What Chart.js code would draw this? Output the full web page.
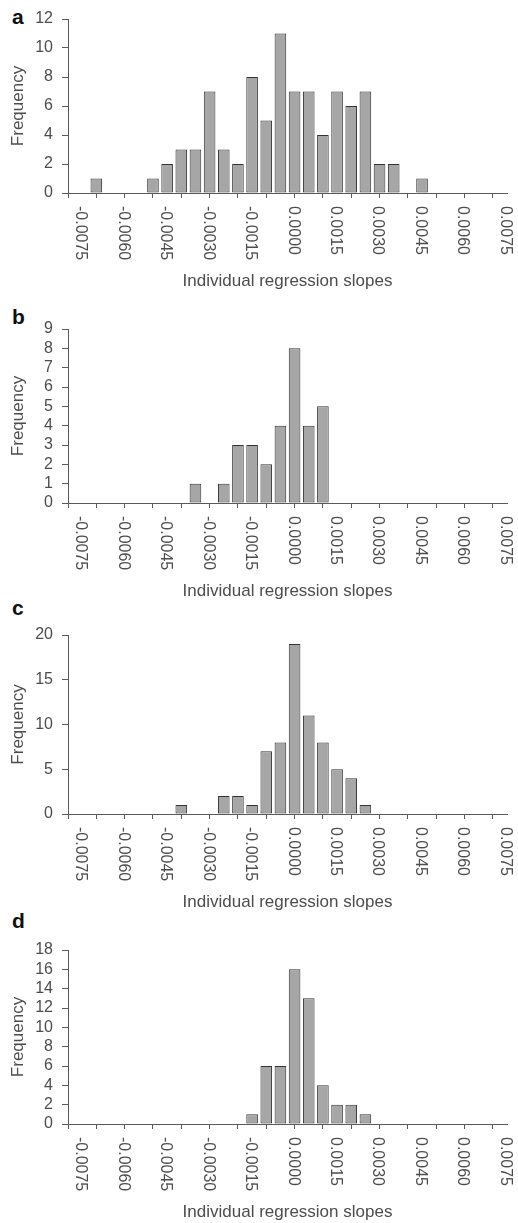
<!DOCTYPE html>
<html>
<head>
<meta charset="utf-8">
<script src="https://cdn.jsdelivr.net/npm/chart.js@4.4.0/dist/chart.umd.min.js"></script>
<style>
  html, body { margin: 0; padding: 0; background: #fff; width: 518px; height: 1223px; overflow: hidden; }
  canvas { position: absolute; left: 0; }
  .letter { position: absolute; left: 12px; font: bold 21px "Liberation Sans", Arial, sans-serif; line-height: 21px; color: #111; }
</style>
</head>
<body>
<div class="letter" style="top:6px">a</div>
<div class="letter" style="top:306px">b</div>
<div class="letter" style="top:597px">c</div>
<div class="letter" style="top:910px">d</div>

<canvas id="chart-a" width="518" height="292" style="top:0px"></canvas>
<canvas id="chart-b" width="518" height="292" style="top:310px"></canvas>
<canvas id="chart-c" width="518" height="297" style="top:616px"></canvas>
<canvas id="chart-d" width="518" height="292" style="top:931px"></canvas>

<script>
// bin centres (bin width 0.0005)
const binCenters = [
  -0.00725, -0.00675, -0.00625, -0.00575, -0.00525, -0.00475, -0.00425, -0.00375,
  -0.00325, -0.00275, -0.00225, -0.00175, -0.00125, -0.00075, -0.00025,
   0.00025,  0.00075,  0.00125,  0.00175,  0.00225,  0.00275,  0.00325,  0.00375,
   0.00425,  0.00475,  0.00525,  0.00575,  0.00625,  0.00675,  0.00725
];

const xTickValues = [-0.0075, -0.006, -0.0045, -0.003, -0.0015, 0, 0.0015, 0.003, 0.0045, 0.006, 0.0075];
const xTickLabels = ['-0.0075', '-0.0060', '-0.0045', '-0.0030', '-0.0015', '0.0000',
                     '0.0015', '0.0030', '0.0045', '0.0060', '0.0075'];

const countsA = [0, 1, 0, 0, 0, 1, 2, 3, 3, 7, 3, 2, 8, 5, 11, 7, 7, 4, 7, 6, 7, 2, 2, 0, 1, 0, 0, 0, 0, 0];
const countsB = [0, 0, 0, 0, 0, 0, 0, 0, 1, 0, 1, 3, 3, 2, 4, 8, 4, 5, 0, 0, 0, 0, 0, 0, 0, 0, 0, 0, 0, 0];
const countsC = [0, 0, 0, 0, 0, 0, 0, 1, 0, 0, 2, 2, 1, 7, 8, 19, 11, 8, 5, 4, 1, 0, 0, 0, 0, 0, 0, 0, 0, 0];
const countsD = [0, 0, 0, 0, 0, 0, 0, 0, 0, 0, 0, 0, 1, 6, 6, 16, 13, 4, 2, 2, 1, 0, 0, 0, 0, 0, 0, 0, 0, 0];

const yMaxA = 12, yStepA = 2;
const yMaxB = 9,  yStepB = 1;
const yMaxC = 20, yStepC = 5;
const yMaxD = 18, yStepD = 2;

const FONT = '"Liberation Sans", Arial, sans-serif';
const textColor = '#4d4d4d';
const axisColor = '#5a5a5a';

// x tick labels read top-to-bottom, so draw them ourselves
const slopeLabels = {
  id: 'slopeLabels',
  afterDraw(chart) {
    const x = chart.scales.x;
    const ctx = chart.ctx;
    ctx.save();
    ctx.font = '16px ' + FONT;
    ctx.fillStyle = textColor;
    ctx.textAlign = 'left';
    ctx.textBaseline = 'alphabetic';
    xTickValues.forEach((v, i) => {
      const px = x.getPixelForValue(v);
      ctx.save();
      ctx.translate(px + 1, x.top + 13);
      ctx.rotate(Math.PI / 2);
      ctx.fillText(xTickLabels[i], 0, 0);
      ctx.restore();
    });
    ctx.restore();
  }
};

function makeChart(id, counts, yMax, yStep) {
  const points = binCenters
    .map((c, i) => ({ x: c, y: counts[i] }))
    .filter(p => p.y > 0);

  return new Chart(document.getElementById(id), {
    type: 'bar',
    data: {
      datasets: [{
        data: points,
        backgroundColor: '#a6a6a6',
        borderColor: '#333333',
        borderWidth: 1,
        borderSkipped: false,
        categoryPercentage: 1,
        barPercentage: 0.82
      }]
    },
    options: {
      responsive: false,
      animation: false,
      layout: { padding: { left: 0, right: 11, top: 19, bottom: 0 } },
      plugins: { legend: { display: false }, tooltip: { enabled: false } },
      scales: {
        x: {
          type: 'linear',
          min: -0.0075,
          max: 0.0075,
          ticks: { display: false, stepSize: 0.0005 },
          grid: {
            drawOnChartArea: false,
            drawTicks: true,
            tickLength: 5,
            tickColor: c => (c.index % 2 === 0 ? axisColor : 'rgba(0,0,0,0)')
          },
          border: { color: axisColor, width: 1 },
          title: {
            display: true,
            text: 'Individual regression slopes',
            color: textColor,
            font: { family: FONT, size: 17 },
            padding: 0
          },
          afterFit(s) { s.height = 99; }
        },
        y: {
          min: 0,
          max: yMax,
          ticks: {
            stepSize: yStep,
            autoSkip: false,
            padding: 9,
            color: textColor,
            font: { family: FONT, size: 16 }
          },
          grid: { drawOnChartArea: false, drawTicks: true, tickLength: 6, tickColor: axisColor },
          border: { color: axisColor, width: 1 },
          title: {
            display: true,
            text: 'Frequency',
            color: textColor,
            font: { family: FONT, size: 17 },
            padding: { top: 8, bottom: 0 }
          },
          afterFit(s) { s.width = 68; }
        }
      }
    },
    plugins: [slopeLabels]
  });
}

makeChart('chart-a', countsA, yMaxA, yStepA);
makeChart('chart-b', countsB, yMaxB, yStepB);
makeChart('chart-c', countsC, yMaxC, yStepC);
makeChart('chart-d', countsD, yMaxD, yStepD);
</script>
</body>
</html>
